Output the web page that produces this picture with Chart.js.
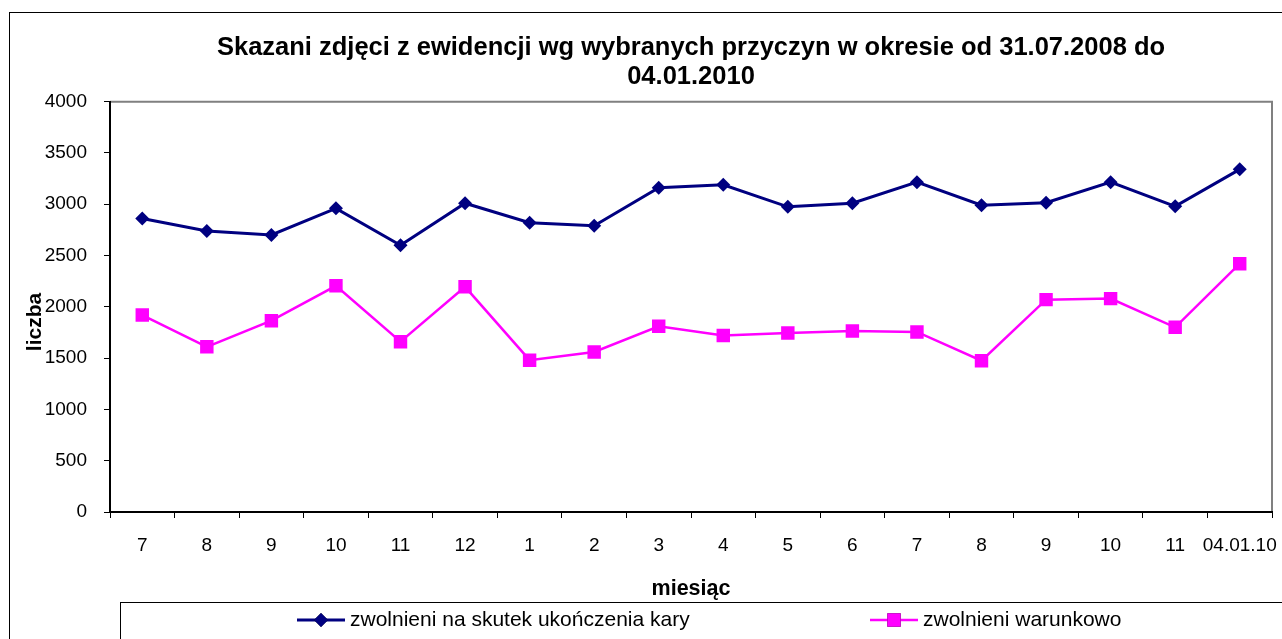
<!DOCTYPE html>
<html>
<head>
<meta charset="utf-8">
<script src="https://cdn.jsdelivr.net/npm/chart.js@4/dist/chart.umd.min.js"></script>
<style>
  body { margin: 0; background: #fff; }
  #wrap { width: 1282px; height: 639px; }
</style>
</head>
<body>
<div id="wrap"><canvas id="successChart" width="1282" height="639"></canvas></div>
<script>
var months = ['7', '8', '9', '10', '11', '12', '1', '2', '3', '4', '5', '6', '7', '8', '9', '10', '11', '04.01.10'];
var koniecKary = [2860, 2740, 2700, 2960, 2600, 3010, 2820, 2790, 3160, 3190, 2975, 3010, 3215, 2990, 3015, 3215, 2980, 3340];
var warunkowo = [1920, 1610, 1865, 2205, 1660, 2195, 1480, 1560, 1810, 1720, 1745, 1765, 1755, 1475, 2070, 2080, 1800, 2420];
var yTicks = [0, 500, 1000, 1500, 2000, 2500, 3000, 3500, 4000];
var chartTitle = ['Skazani zdjęci z ewidencji wg wybranych przyczyn w okresie od 31.07.2008 do', '04.01.2010'];
var xTitle = 'miesiąc';
var yTitle = 'liczba';
var seriesNames = ['zwolnieni na skutek ukończenia kary', 'zwolnieni warunkowo'];

var FONT = 'Arial, "Liberation Sans", sans-serif';
Chart.defaults.font.family = FONT;
Chart.defaults.color = '#000';

// frame, plot border, y title and the legend box (Excel look)
var excelBits = {
    id: 'excelBits',
    beforeDraw: function(chart) {
        var ctx = chart.ctx, a = chart.chartArea;
        ctx.save();
        ctx.fillStyle = '#fff';
        ctx.fillRect(0, 0, chart.width, chart.height);
        ctx.strokeStyle = '#000';
        ctx.lineWidth = 1;
        ctx.strokeRect(9.5, 12.5, chart.width + 10, chart.height + 10);
        ctx.strokeStyle = '#808080';
        ctx.lineWidth = 2;
        ctx.beginPath();
        ctx.moveTo(a.left, a.top);
        ctx.lineTo(a.right, a.top);
        ctx.lineTo(a.right, a.bottom);
        ctx.stroke();
        ctx.restore();
    },
    afterDraw: function(chart) {
        var ctx = chart.ctx;
        ctx.save();
        // y axis title
        ctx.translate(35.7, 322);
        ctx.rotate(-Math.PI / 2);
        ctx.font = 'bold 21px ' + FONT;
        ctx.textAlign = 'center';
        ctx.textBaseline = 'middle';
        ctx.fillStyle = '#000';
        ctx.fillText(yTitle, 0, 0);
        ctx.restore();

        // legend
        ctx.save();
        ctx.strokeStyle = '#000';
        ctx.lineWidth = 1;
        ctx.strokeRect(120.5, 602.5, chart.width, 60);
        var itemX = [297, 870];
        var ly = 620;
        chart.data.datasets.forEach(function(ds, i) {
            var x = itemX[i];
            ctx.strokeStyle = ds.borderColor;
            ctx.lineWidth = ds.borderWidth;
            ctx.beginPath();
            ctx.moveTo(x, ly);
            ctx.lineTo(x + 48, ly);
            ctx.stroke();
            Chart.helpers.drawPoint(ctx, {
                pointStyle: ds.pointStyle,
                radius: ds.pointRadius,
                borderWidth: 0,
                rotation: 0
            }, x + 24, ly);
            ctx.fillStyle = ds.pointBackgroundColor;
            ctx.fill();
            ctx.fillStyle = '#000';
            ctx.font = '21px ' + FONT;
            ctx.textAlign = 'left';
            ctx.textBaseline = 'middle';
            ctx.fillText(ds.label, x + 53, ly);
        });
        ctx.restore();
    }
};

new Chart(document.getElementById('successChart'), {
    type: 'line',
    data: {
        labels: months,
        datasets: [{
            label: seriesNames[0],
            data: koniecKary,
            borderColor: '#000080',
            backgroundColor: '#000080',
            pointBackgroundColor: '#000080',
            pointBorderColor: '#000080',
            borderWidth: 3,
            pointStyle: 'rectRot',
            pointRadius: 7,
            pointBorderWidth: 0,
            tension: 0
        }, {
            label: seriesNames[1],
            data: warunkowo,
            borderColor: '#FF00FF',
            backgroundColor: '#FF00FF',
            pointBackgroundColor: '#FF00FF',
            pointBorderColor: '#FF00FF',
            borderWidth: 2.5,
            pointStyle: 'rect',
            pointRadius: 9.5,
            pointBorderWidth: 0,
            tension: 0
        }]
    },
    options: {
        responsive: false,
        animation: false,
        events: [],
        layout: { padding: { left: 0, right: 10, top: 0, bottom: 0 } },
        plugins: {
            legend: { display: false },
            tooltip: { enabled: false },
            title: {
                display: true,
                text: chartTitle,
                fullSize: false,
                color: '#000',
                font: { size: 25.5, weight: 'bold', lineHeight: 1.14 },
                padding: { top: 33.5, bottom: 10 }
            }
        },
        scales: {
            x: {
                offset: true,
                afterFit: function(scale) {
                    scale.height = 127;
                    scale.paddingLeft = 0;
                    scale.paddingRight = 0;
                },
                grid: { offset: true, drawOnChartArea: false, drawTicks: true, tickLength: 6, color: '#000', lineWidth: 1 },
                border: { color: '#000', width: 2 },
                ticks: { padding: 16, font: { size: 19 }, color: '#000', maxRotation: 0, autoSkip: false },
                title: {
                    display: true,
                    text: xTitle,
                    color: '#000',
                    font: { size: 21.5, weight: 'bold' },
                    padding: { top: 0, bottom: 36.6 }
                }
            },
            y: {
                min: 0,
                max: 4000,
                afterFit: function(scale) {
                    scale.width = 110;
                    scale.paddingTop = 0;
                    scale.paddingBottom = 0;
                },
                afterBuildTicks: function(scale) {
                    scale.ticks = yTicks.map(function(v) { return { value: v }; });
                },
                grid: { drawOnChartArea: false, drawTicks: true, tickLength: 6, color: '#000', lineWidth: 1 },
                border: { color: '#000', width: 2 },
                ticks: {
                    padding: 17,
                    font: { size: 19 },
                    color: '#000',
                    callback: function(v) { return String(v); }
                }
            }
        }
    },
    plugins: [excelBits]
});
</script>
</body>
</html>
